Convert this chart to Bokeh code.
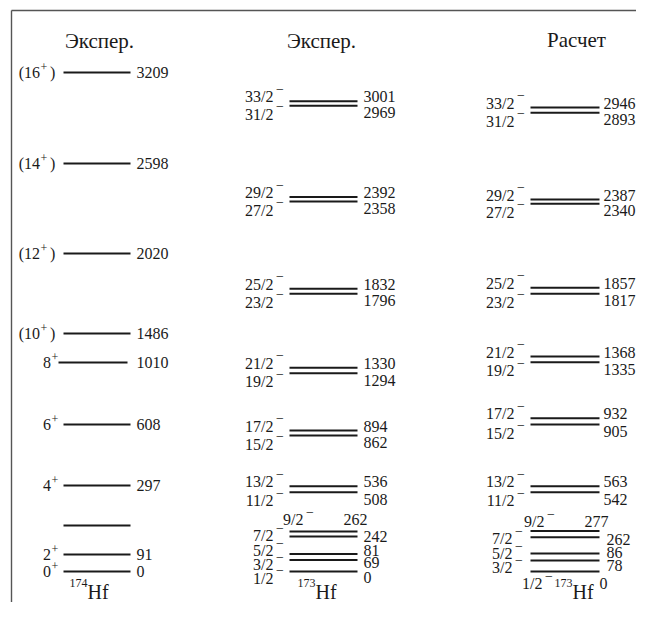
from bokeh.plotting import figure
from bokeh.models import ColumnDataSource, Range1d
from bokeh.core.properties import value
from bokeh.embed import file_html
from bokeh.resources import INLINE

# ---------------- data ----------------
column_titles = ["Экспер.", "Экспер.", "Расчет"]
isotope_mass = ["174", "173", "173"]
element = "Hf"

# 174Hf ground band (experiment); None = unlabeled level
hf174_J = [0, 2, None, 4, 6, 8, 10, 12, 14, 16]
hf174_tentative = [False, False, False, False, False, False, True, True, True, True]
hf174_E = [0, 91, None, 297, 608, 1010, 1486, 2020, 2598, 3209]

# 173Hf band (negative parity)
hf173_spin = ["1/2", "3/2", "5/2", "7/2", "9/2", "11/2", "13/2", "15/2", "17/2",
              "19/2", "21/2", "23/2", "25/2", "27/2", "29/2", "31/2", "33/2"]
hf173_exp_E = [0, 69, 81, 242, 262, 508, 536, 862, 894, 1294, 1330, 1796, 1832,
               2358, 2392, 2969, 3001]
hf173_calc_E = [0, 78, 86, 262, 277, 542, 563, 905, 932, 1335, 1368, 1817, 1857,
                2340, 2387, 2893, 2946]

# ---------------- layout (schematic drawing positions, screen-like units) ----------------
y174 = [571, 554, 525, 485, 424, 362, 333, 253, 163, 72]
x174_start = [63, 63, 63, 63, 63, 58, 63, 63, 63, 63]
x174_end = [130, 130, 130, 130, 130, 127, 130, 130, 130, 130]

y_exp = [571, 559.5, 553.5, 536, 531, 491.7, 485.7, 435, 430, 372.7, 367.3,
         293.3, 288.3, 201, 196.5, 105.3, 100.7]
y_calc = [571, 560, 553, 536.7, 530.5, 491.7, 485.7, 424, 417.7, 361.7, 356,
          293.3, 287.3, 203.3, 199, 112.3, 107]

col_x = [(289, 357), (530, 599)]
# low-lying cluster label anchors (visual centres): left x end, left y, right x start, right y
low_exp = dict(lx=[273, 273, 273, 273, 303], ly=[577.5, 564, 550, 535, 519],
               rx=[363, 363, 363, 363, 343], ry=[577, 562, 550, 535.5, 519])
low_calc = dict(lx=[542, 512, 512, 512, 544], ly=[583, 567, 553, 538, 521],
                rx=[599, 606, 606, 606, 584], ry=[583, 565, 552, 539, 521])
pair_exp = dict(lx=273, rx=363)
pair_calc = dict(lx=514, rx=603)

title_pos = [(99, 40), (321, 40), (576, 39)]
iso_x = [87, 315, 572]
iso_mass_y = 582.5
iso_el_y = 591

FONT = value("Liberation Serif")
FS = "16px"
INK = "#1a1a1a"

p = figure(width=636, height=602, x_range=Range1d(0, 636), y_range=Range1d(602, 0),
           toolbar_location=None, output_backend="svg", min_border=0)
p.axis.visible = False
p.grid.visible = False
p.outline_line_color = None
p.background_fill_color = "white"
p.border_fill_color = "white"

# frame
p.segment(x0=[11, 11], y0=[10, 10], x1=[636, 11], y1=[10, 602],
          line_color="#555555", line_width=1.4)

TXT = dict(text_font=FONT, text_color=INK, text_baseline="alphabetic")

# ---------- column 1: 174Hf ----------
p.segment(x0=x174_start, x1=x174_end, y0=y174, y1=y174, line_color=INK, line_width=2)

main_t, main_x, main_y = [], [], []
sup_x, sup_y = [], []
cl_x, cl_y = [], []
e_t, e_x, e_y = [], [], []
for J, tent, E, y in zip(hf174_J, hf174_tentative, hf174_E, y174):
    if J is None:
        continue
    if tent:
        main_t.append("(" + str(J)); main_x.append(39.5)
        sup_x.append(40)
        cl_x.append(49.5); cl_y.append(y)
    else:
        main_t.append(str(J)); main_x.append(50.5)
        sup_x.append(51)
    main_y.append(y)
    sup_y.append(y - 6)
    e_t.append(str(E)); e_x.append(136); e_y.append(y)

p.text(x=main_x, y=main_y, text=main_t, text_align="right", text_font_size=FS, **TXT)
p.text(x=sup_x, y=sup_y, text=["+"] * len(sup_x), text_align="left",
       text_font_size="12px", **TXT)
p.text(x=cl_x, y=cl_y, text=[")"] * len(cl_x), text_align="left", text_font_size=FS, **TXT)
p.text(x=e_x, y=e_y, text=e_t, text_align="left", text_font_size=FS, **TXT)


# ---------- columns 2, 3: 173Hf ----------
def draw_173(energies, ys, xr, low, pair):
    x0, x1 = xr
    p.segment(x0=[x0] * len(ys), x1=[x1] * len(ys), y0=ys, y1=ys,
              line_color=INK, line_width=2)
    lx, ly, rx, ry = [], [], [], []
    for i, y in enumerate(ys):
        if i < 5:
            lx.append(low["lx"][i]); ly.append(low["ly"][i])
            rx.append(low["rx"][i]); ry.append(low["ry"][i])
        else:
            lower = (i - 5) % 2 == 0
            lx.append(pair["lx"]); rx.append(pair["rx"])
            ly.append(y + 8.5 if lower else y - 4.5)
            ry.append(y + 7 if lower else y - 4.5)
    src = ColumnDataSource(dict(lx=lx, ly=ly, rx=rx, ry=ry,
                                bx=[v + 2.5 for v in lx], by=[v - 8 for v in ly],
                                spin=hf173_spin, E=[str(e) for e in energies],
                                par=["\u2212"] * len(ys)))
    p.text(x="lx", y="ly", text="spin", source=src, text_align="right",
           text_font_size=FS, **TXT)
    p.text(x="bx", y="by", text="par", source=src, text_align="left",
           text_font_size="14px", **TXT)
    p.text(x="rx", y="ry", text="E", source=src, text_align="left",
           text_font_size=FS, **TXT)


draw_173(hf173_exp_E, y_exp, col_x[0], low_exp, pair_exp)
draw_173(hf173_calc_E, y_calc, col_x[1], low_calc, pair_calc)

# ---------- titles and isotope labels ----------
p.text(x=[t[0] for t in title_pos], y=[t[1] for t in title_pos], text=column_titles,
       text_align="center", text_font_size="21px", **TXT)
p.text(x=iso_x, y=[iso_mass_y] * 3, text=isotope_mass, text_align="right",
       text_font_size="12px", **TXT)
p.text(x=iso_x, y=[iso_el_y] * 3, text=[element] * 3, text_align="left",
       text_font_size="20px", **TXT)

open("out.html", "w").write(file_html(p, INLINE))
